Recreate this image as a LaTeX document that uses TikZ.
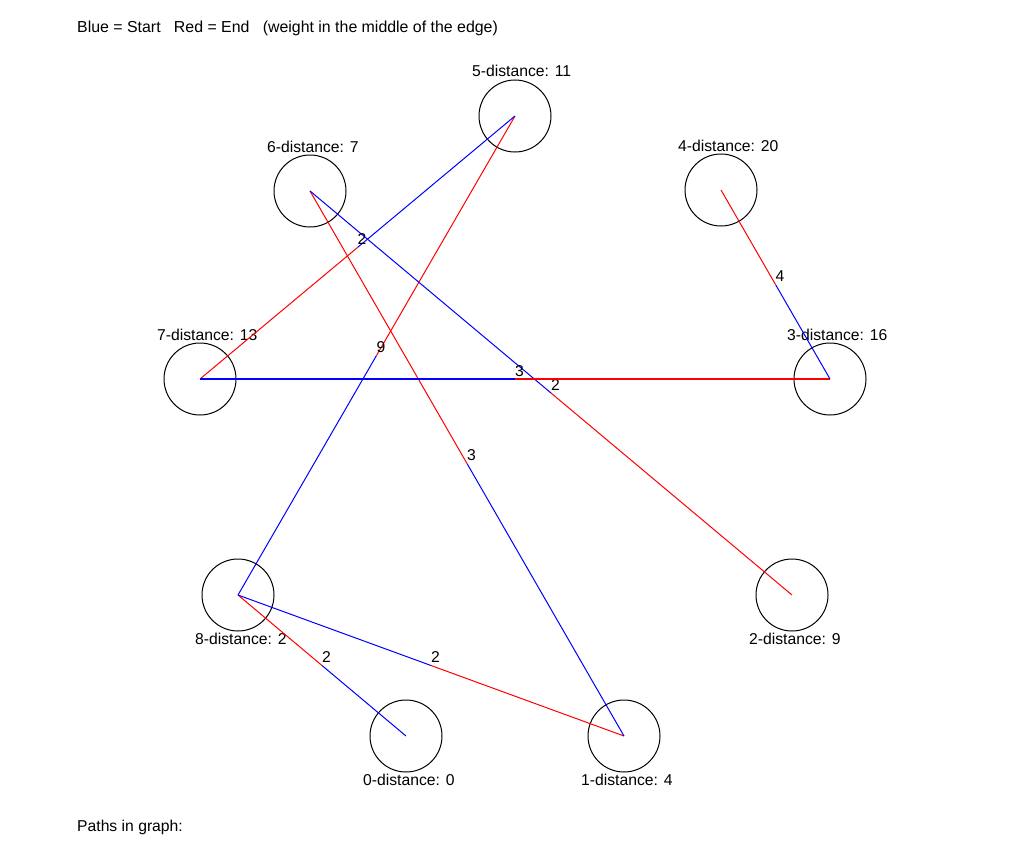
\documentclass[tikz,border=0pt]{standalone}
\usepackage{fontspec}
\setmainfont{Liberation Sans}

\begin{document}
\begin{tikzpicture}[x=1pt,y=-1pt,
  font=\fontsize{15.7}{18}\selectfont,
  vertex/.style={draw, circle, minimum size=72pt, inner sep=0pt, line width=1pt},
  dist/.style={anchor=base west, inner sep=0pt},
  weight/.style={anchor=base west, inner sep=0pt, yshift=3pt},
  startedge/.style={blue, line width=1pt},
  endedge/.style={red, line width=1pt}]
\useasboundingbox (0,0) rectangle (1024,864);

% vertices
\node [vertex] (n0) at (406,736) {};
\node [vertex] (n1) at (624,736) {};
\node [vertex] (n2) at (792,595) {};
\node [vertex] (n3) at (830,379) {};
\node [vertex] (n4) at (721,190) {};
\node [vertex] (n5) at (515,116) {};
\node [vertex] (n6) at (310,191) {};
\node [vertex] (n7) at (200,379) {};
\node [vertex] (n8) at (238,595) {};

% distance labels
\node [dist] (l0) at ([xshift=-43pt,yshift=-49pt]n0.center) {0-distance: 0};
\node [dist] (l1) at ([xshift=-43pt,yshift=-49pt]n1.center) {1-distance: 4};
\node [dist] (l2) at ([xshift=-43pt,yshift=-49pt]n2.center) {2-distance: 9};
\node [dist] (l3) at ([xshift=-43pt,yshift=39pt]n3.center) {3-distance: 16};
\node [dist] (l4) at ([xshift=-43pt,yshift=39pt]n4.center) {4-distance: 20};
\node [dist] (l5) at ([xshift=-43pt,yshift=39pt]n5.center) {5-distance: 11};
\node [dist] (l6) at ([xshift=-43pt,yshift=39pt]n6.center) {6-distance: 7};
\node [dist] (l7) at ([xshift=-43pt,yshift=39pt]n7.center) {7-distance: 13};
\node [dist] (l8) at ([xshift=-43pt,yshift=-49pt]n8.center) {8-distance: 2};

% edges: blue half at the start, red half at the end
\path (n0.center) -- (n8.center) coordinate[pos=.5] (m08);
\draw [startedge] (n0.center) -- (m08);
\draw [endedge] (m08) -- (n8.center);
\node [weight] (w08) at (m08) {2};

\path (n8.center) -- (n1.center) coordinate[pos=.5] (m81);
\draw [startedge] (n8.center) -- (m81);
\draw [endedge] (m81) -- (n1.center);
\node [weight] (w81) at (m81) {2};

\path (n8.center) -- (n5.center) coordinate[pos=.5] (m85);
\draw [startedge] (n8.center) -- (m85);
\draw [endedge] (m85) -- (n5.center);
\node [weight] (w85) at (m85) {9};

\path (n1.center) -- (n6.center) coordinate[pos=.5] (m16);
\draw [startedge] (n1.center) -- (m16);
\draw [endedge] (m16) -- (n6.center);
\node [weight] (w16) at (m16) {3};

\path (n6.center) -- (n2.center) coordinate[pos=.5] (m62);
\draw [startedge] (n6.center) -- (m62);
\draw [endedge] (m62) -- (n2.center);
\node [weight] (w62) at (m62) {2};

\path (n5.center) -- (n7.center) coordinate[pos=.5] (m57);
\draw [startedge] (n5.center) -- (m57);
\draw [endedge] (m57) -- (n7.center);
\node [weight] (w57) at (m57) {2};

\path (n7.center) -- (n3.center) coordinate[pos=.5] (m73);
\draw [startedge, line width=1.6pt] (n7.center) -- (m73);
\draw [endedge, line width=1.6pt] (m73) -- (n3.center);
\node [weight] (w73) at (m73) {3};

\path (n3.center) -- (n4.center) coordinate[pos=.5] (m34);
\draw [startedge] (n3.center) -- (m34);
\draw [endedge] (m34) -- (n4.center);
\node [weight] (w34) at (m34) {4};

% texts
\node [dist, font=\fontsize{15.9}{18}\selectfont] (legend) at (77,33) {Blue = Start\ \ \ Red = End\ \ \ (weight in the middle of the edge)};
\node [dist] (paths) at (77,831) {Paths in graph:};

\end{tikzpicture}
\end{document}
